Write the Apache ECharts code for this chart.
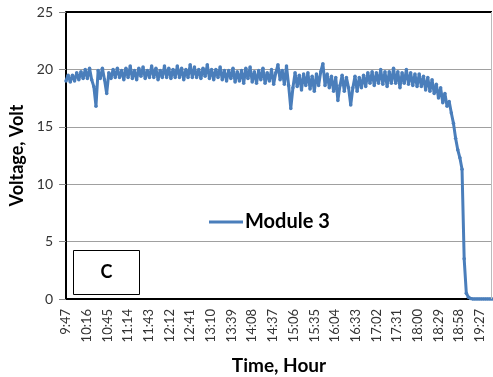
<!DOCTYPE html>
<html>
<head>
<meta charset="utf-8">
<script src="https://cdn.jsdelivr.net/npm/echarts@6/dist/echarts.min.js"></script>
<style>
html,body{margin:0;padding:0;background:#fff;}
#chart{width:493px;height:377px;}
</style>
</head>
<body>
<div id="chart"></div>
<script>
// Tick labels on the time axis (every 29 minutes from 9:47)
const timeLabels = ['9:47','10:16','10:45','11:14','11:43','12:12','12:41','13:10','13:39','14:08','14:37',
  '15:06','15:35','16:04','16:33','17:02','17:31','18:00','18:29','18:58','19:27'];
const labelStepMin = 29;
// Sampling step of the voltage record (minutes after 9:47)
const sampleStepMin = 3;
const axisEndMin = 597;
// Module 3 voltage (V), one reading every 3 minutes from 9:47
const module3Voltage = [
  19.0,19.5,18.9,19.5,19.0,19.7,19.1,19.8,19.2,20.0,
  19.2,20.1,19.1,18.5,16.8,19.9,19.2,20.1,19.1,17.9,
  19.7,19.2,20.0,19.3,20.1,19.3,19.9,19.1,20.1,19.3,
  20.3,19.2,19.9,19.1,20.1,19.4,20.2,19.2,19.9,19.3,
  20.3,19.3,20.1,19.1,19.9,19.3,20.3,19.3,20.1,19.2,
  20.0,19.3,20.3,19.3,20.1,19.1,20.0,19.3,20.4,19.3,
  20.2,19.3,20.0,19.2,20.1,19.4,20.4,19.2,20.0,19.1,
  20.0,19.3,20.2,19.1,19.9,19.0,19.9,19.2,20.1,18.9,
  19.8,19.0,19.9,18.8,20.1,19.2,20.2,18.9,19.8,18.8,
  19.9,19.1,20.1,18.8,19.7,19.0,20.0,18.7,19.7,20.4,
  19.1,19.9,18.7,20.3,18.6,16.6,18.4,19.7,18.5,19.5,
  18.2,19.6,18.6,19.7,18.3,19.4,18.1,19.6,18.6,19.8,
  20.5,18.6,19.6,18.4,19.4,18.1,19.3,17.3,18.6,19.5,
  18.1,19.3,18.4,16.9,18.4,19.4,18.1,19.3,18.4,19.5,
  18.5,19.7,18.8,19.8,18.6,19.7,18.8,20.0,18.7,19.8,
  18.5,19.8,18.8,20.1,18.8,19.8,18.4,19.7,18.8,20.0,
  18.7,19.7,18.6,19.6,18.5,19.6,18.5,19.4,18.2,19.3,
  18.1,19.1,17.9,18.7,17.5,18.4,17.1,17.9,16.8,17.2,
  16.2,15.3,14.0,13.0,12.3,11.3,3.5,0.5,0.15,0.05,
  0,0,0,0,0,0,0,0,0,0
];
const seriesName = 'Module 3';
const panelLabel = 'C';

const seriesData = module3Voltage.map((v, i) => [i * sampleStepMin, v]);

const FONT = 'Lato';
const chart = echarts.init(document.getElementById('chart'), null, {renderer: 'canvas'});
chart.setOption({
  animation: false,
  backgroundColor: '#fff',
  grid: {left: 66, right: 1, top: 12, bottom: 78, containLabel: false, outerBoundsMode: 'none'},
  xAxis: {
    type: 'value', min: 0, max: axisEndMin, interval: labelStepMin,
    name: 'Time, Hour', nameLocation: 'middle', nameGap: 57,
    nameTextStyle: {fontFamily: FONT, fontWeight: 'bold', fontSize: 19, color: '#000'},
    axisLine: {show: true, onZero: false, lineStyle: {color: '#000', width: 2}},
    axisTick: {show: false},
    splitLine: {show: false},
    axisLabel: {
      rotate: 90, fontFamily: FONT, fontSize: 13, color: '#333', margin: 10,
      showMaxLabel: false,
      formatter: v => {
        const k = Math.round(v / labelStepMin);
        return (Math.abs(k * labelStepMin - v) < 1e-6 && timeLabels[k]) ? timeLabels[k] : '';
      }
    }
  },
  yAxis: {
    type: 'value', min: 0, max: 25, interval: 5,
    name: 'Voltage, Volt', nameLocation: 'middle', nameGap: 40,
    nameTextStyle: {fontFamily: FONT, fontWeight: 'bold', fontSize: 18, color: '#000'},
    axisLine: {show: true, lineStyle: {color: '#000', width: 2}},
    axisTick: {show: true, length: 7, lineStyle: {color: '#888'}},
    splitLine: {show: true, lineStyle: {color: '#a0a0a0', width: 1}},
    axisLabel: {fontFamily: FONT, fontSize: 14, color: '#333', margin: 13}
  },
  legend: {
    show: true, left: 204, top: 207,
    icon: 'rect', itemWidth: 34, itemHeight: 3, itemGap: 4,
    textStyle: {fontFamily: FONT, fontWeight: 'bold', fontSize: 20, color: '#000', padding: [0,0,0,-3]},
    data: [seriesName]
  },
  graphic: [
    {type: 'line', z: 50, shape: {x1: 66, y1: 12, x2: 492, y2: 12}, style: {stroke: '#000', lineWidth: 2}},
    {type: 'line', z: 50, shape: {x1: 491.5, y1: 12, x2: 491.5, y2: 299}, style: {stroke: '#bbb', lineWidth: 1}},
    {type: 'rect', z: 50, shape: {x: 73.5, y: 250.5, width: 66, height: 44},
      style: {fill: '#fff', stroke: '#000', lineWidth: 1}},
    {type: 'text', z: 51, x: 106.5, y: 272.5,
      style: {text: panelLabel, fontFamily: FONT, fontWeight: 'bold', fontSize: 18, fill: '#000',
        align: 'center', verticalAlign: 'middle'}}
  ],
  series: [{
    name: seriesName, type: 'line', data: seriesData,
    showSymbol: true, symbol: 'circle', symbolSize: 3.5,
    itemStyle: {color: '#4a7ebb'},
    lineStyle: {color: '#4a7ebb', width: 3},
    z: 3
  }]
});
</script>
</body>
</html>
